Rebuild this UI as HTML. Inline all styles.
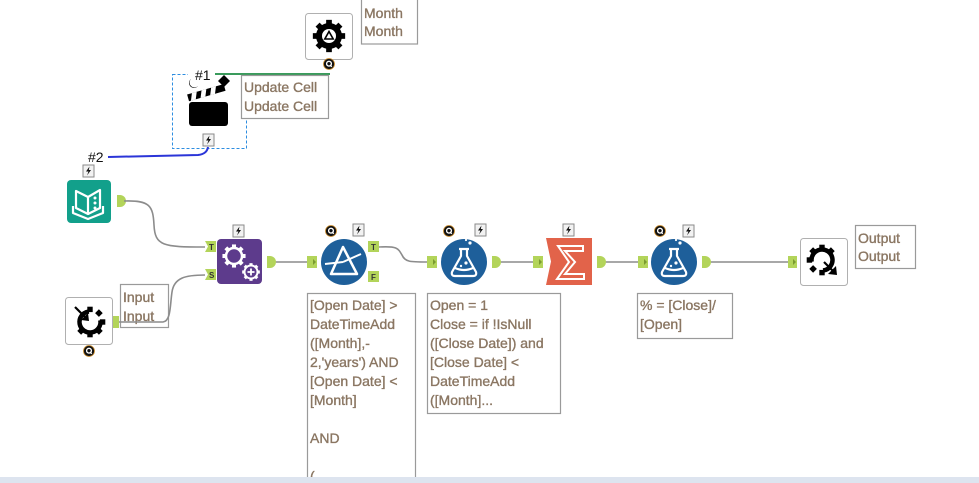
<!DOCTYPE html>
<html><head><meta charset="utf-8">
<style>
html,body{margin:0;padding:0;background:#fff;}
svg{display:block;}
text{font-family:"Liberation Sans",sans-serif;}
.lbl{font-size:14px;fill:#8a7662;stroke:#8a7662;stroke-width:0.35;}
.box{fill:#fff;stroke:#9a9a9a;stroke-width:1.2;}
.ia{fill:#b3d45a;}
.oa{fill:#b3d45a;}
.con{fill:none;stroke:#8c8c8c;stroke-width:1.6;}
</style></head>
<body>
<svg width="979" height="483" viewBox="0 0 979 483" xmlns="http://www.w3.org/2000/svg">
<defs>
  <g id="bolt">
    <rect x="0" y="0" width="11" height="12" fill="#f2f2f2" stroke="#8a8a8a" stroke-width="1"/>
    <path d="M6.5 1.5 L3 6.5 L5.5 6.5 L4 10.5 L8 5 L5.8 5 Z" fill="#111"/>
  </g>
  <g id="q">
    <circle cx="0" cy="0" r="5.5" fill="#111" stroke="#c98a2a" stroke-width="0.8"/>
    <circle cx="0" cy="-0.3" r="2.4" fill="none" stroke="#fff" stroke-width="1.3"/>
    <path d="M1 1 L2.8 2.8" stroke="#fff" stroke-width="1.3"/>
  </g>
  <g id="teeth8">
    <rect x="-3" y="-17" width="6" height="6"/>
    <rect x="-3" y="-17" width="6" height="6" transform="rotate(45)"/>
    <rect x="-3" y="-17" width="6" height="6" transform="rotate(90)"/>
    <rect x="-3" y="-17" width="6" height="6" transform="rotate(135)"/>
    <rect x="-3" y="-17" width="6" height="6" transform="rotate(180)"/>
    <rect x="-3" y="-17" width="6" height="6" transform="rotate(225)"/>
    <rect x="-3" y="-17" width="6" height="6" transform="rotate(270)"/>
    <rect x="-3" y="-17" width="6" height="6" transform="rotate(315)"/>
  </g>
</defs>

<!-- bottom strip -->
<rect x="0" y="477" width="979" height="6" fill="#dde4ef"/>

<!-- ===== Month macro ===== -->
<rect x="305.5" y="13.5" width="47" height="46" rx="3" fill="#fff" stroke="#b0b0b0"/>
<g transform="translate(329,36)" fill="#000">
  <circle r="13"/>
  <g transform="scale(0.95)"><use href="#teeth8"/></g>
  <circle r="7" fill="#fff"/>
  <path d="M0 -4.5 L4.2 3 L-4.2 3 Z" fill="none" stroke="#000" stroke-width="1.6"/>
</g>
<use href="#q" x="329" y="64"/>
<rect x="361.5" y="-1" width="56" height="45" class="box"/>
<text x="364" y="18" class="lbl">Month</text>
<text x="364" y="36" class="lbl">Month</text>

<!-- ===== Container with action ===== -->
<rect x="172.5" y="74.5" width="74" height="74" fill="none" stroke="#2d8de0" stroke-width="1" stroke-dasharray="3,2"/>
<rect x="188" y="66" width="27" height="12" fill="#fff"/>
<path d="M215 74 L330 74" stroke="#3a9b5c" stroke-width="2"/>
<text x="195" y="80" font-size="14" fill="#111">#1</text>
<path d="M191 79 A5 5 0 1 0 198 86 A4 4 0 0 1 191 79 Z" fill="#111"/>
<!-- clapperboard -->
<g>
  <rect x="189" y="102" width="39" height="24" rx="3" fill="#000"/>
  <g transform="rotate(-16 190 101)">
    <rect x="189" y="94" width="38" height="7" fill="#000"/>
    <path d="M194 94 L199 94 L196 101 L191 101 Z M204 94 L209 94 L206 101 L201 101 Z M214 94 L219 94 L216 101 L211 101 Z" fill="#fff"/>
  </g>
</g>
<path d="M224 75 L230 81 L224 87 L218 81 Z" fill="#000"/>
<use href="#bolt" x="203" y="134"/>
<rect x="241.5" y="75.5" width="87" height="43" class="box"/>
<text x="244" y="92" class="lbl">Update Cell</text>
<text x="244" y="111" class="lbl">Update Cell</text>

<!-- blue connection -->
<path d="M108 157 L198 155 Q207 154 208 147" fill="none" stroke="#2b35d8" stroke-width="2"/>
<text x="88" y="162" font-size="14" fill="#111">#2</text>

<!-- ===== Input data (book) ===== -->
<use href="#bolt" x="83" y="165"/>
<rect x="67" y="180" width="44" height="43" rx="4" fill="#12a08b"/>
<g fill="none" stroke="#fff" stroke-width="2.2" stroke-linejoin="round">
  <path d="M76 191 L88 197 L88 214 L76 208 Z"/>
  <path d="M88 197 L100 190 L100 208 L88 214"/>
  <path d="M73 206 L73 213 L88 219 L103 213 L103 206"/>
</g>
<circle cx="95" cy="198" r="1.5" fill="#fff"/>
<circle cx="95" cy="203" r="1.5" fill="#fff"/>
<circle cx="95" cy="208" r="1.5" fill="#fff"/>
<path class="oa" d="M117 195 h3 a6 6 0 0 1 0 12 h-3 z"/>

<path class="con" d="M124 201 C150 200, 153 206, 154 225 C155 246, 163 247, 205 247"/>

<!-- ===== Macro input bottom-left ===== -->
<rect x="65.5" y="297.5" width="47" height="47" rx="3" fill="#fff" stroke="#b0b0b0"/>
<g transform="translate(90,322)" fill="#000">
  <circle r="10.5" fill="none" stroke="#000" stroke-width="4.5" stroke-dasharray="50 16" transform="rotate(-10)"/>
  <g transform="scale(0.9)">
    <rect x="-3" y="-17" width="6" height="6" transform="rotate(0)"/>
    <rect x="-3" y="-17" width="6" height="6" transform="rotate(45)"/>
    <rect x="-3" y="-17" width="6" height="6" transform="rotate(90)"/>
    <rect x="-3" y="-17" width="6" height="6" transform="rotate(135)"/>
    <rect x="-3" y="-17" width="6" height="6" transform="rotate(180)"/>
    <rect x="-3" y="-17" width="6" height="6" transform="rotate(225)"/>
  </g>
  <path d="M-15 -15 L-3 -3" stroke="#000" stroke-width="2.2"/>
  <path d="M-1 -1 L-9 -2 L-2 -9 Z"/>
</g>
<use href="#q" x="89" y="351"/>
<rect class="ia" x="113" y="316" width="6" height="12"/>
<rect x="120.5" y="284.5" width="48" height="43" class="box"/>
<text x="123" y="302" class="lbl">Input</text>
<text x="123" y="321" class="lbl">Input</text>
<path class="con" d="M119 322 L163 322 C171 321, 170 305, 172 292 C174 278, 185 275, 205 275"/>

<!-- ===== Append / purple ===== -->
<path class="ia" d="M205 241 h11 v11 h-11 l3 -5.5 z"/>
<text x="209" y="250" font-size="8" font-weight="bold" fill="#333">T</text>
<path class="ia" d="M205 269 h11 v11 h-11 l3 -5.5 z"/>
<text x="209" y="278" font-size="8" font-weight="bold" fill="#333">S</text>
<use href="#bolt" x="233" y="225"/>
<rect x="217" y="239" width="45" height="45" rx="4" fill="#5d3b8c"/>
<g transform="translate(234,256)" fill="#fff">
  <circle r="8" fill="none" stroke="#fff" stroke-width="2.5"/>
  <g transform="scale(0.68)"><use href="#teeth8" fill="#fff"/></g>
</g>
<g transform="translate(251,272)" fill="#fff">
  <circle r="6.5" fill="#5d3b8c" stroke="#fff" stroke-width="2"/>
  <g transform="scale(0.52)"><use href="#teeth8" fill="#fff"/></g>
  <path d="M-3.5 0 H3.5 M0 -3.5 V3.5" stroke="#fff" stroke-width="1.8"/>
</g>
<path class="oa" d="M267 256 h3 a6 6 0 0 1 0 12 h-3 z"/>
<path class="con" d="M276 262 L307 262"/>

<!-- ===== Filter ===== -->
<path class="ia" d="M307 256 h10 v12 h-10 z"/>
<path d="M313 259 l3 3 l-3 3 z" fill="#7a9a30"/>
<use href="#q" x="331" y="231"/>
<use href="#bolt" x="353" y="224"/>
<circle cx="344" cy="262" r="23" fill="#1e5f9a"/>
<path d="M343 247 L331 274 L357 274 Z" fill="none" stroke="#fff" stroke-width="2.5" stroke-linejoin="round"/>
<path d="M325 264 L343 262 M343 262 L361 254" stroke="#fff" stroke-width="2"/>
<path class="ia" d="M368 241 h11 v11 h-11 z"/>
<text x="371" y="250" font-size="8" font-weight="bold" fill="#333">T</text>
<path class="ia" d="M368 271 h11 v11 h-11 z"/>
<text x="371" y="280" font-size="8" font-weight="bold" fill="#333">F</text>
<path class="con" d="M379 247 C397 246, 398 248, 402 255 C405 262, 410 262, 427 262"/>

<!-- ===== Formula 1 ===== -->
<path class="ia" d="M427 256 h10 v12 h-10 z"/>
<path d="M433 259 l3 3 l-3 3 z" fill="#7a9a30"/>
<use href="#q" x="449" y="231"/>
<use href="#bolt" x="475" y="224"/>
<circle cx="464" cy="262" r="23" fill="#1e5f9a"/>
<g fill="none" stroke="#fff" stroke-width="2.2" stroke-linejoin="round">
  <path d="M459 249 H469 M461 249 V256 L452 272 Q451 276 455 276 H473 Q477 276 476 272 L467 256 V249"/>
  <path d="M455 268 Q464 272 473 268"/>
</g>
<circle cx="466" cy="263" r="1.6" fill="#fff"/>
<circle cx="461" cy="266" r="1.2" fill="#fff"/>
<circle cx="470" cy="243" r="1.6" fill="#fff"/>
<circle cx="466" cy="240" r="1.1" fill="#fff"/>
<path class="oa" d="M492 256 h3 a6 6 0 0 1 0 12 h-3 z"/>
<path class="con" d="M501 262 L533 262"/>

<!-- ===== Summarize ===== -->
<path class="ia" d="M533 256 h10 v12 h-10 z"/>
<path d="M539 259 l3 3 l-3 3 z" fill="#7a9a30"/>
<use href="#bolt" x="563" y="224"/>
<path d="M546 238 H592 V285 H546 L551 261.5 Z" fill="#e2634a"/>
<path d="M558 246 H583 V251 H565 L575 262 L565 274 H584 V279 H557 L569 262 Z" fill="none" stroke="#fff" stroke-width="2"/>
<path class="oa" d="M597 256 h3 a6 6 0 0 1 0 12 h-3 z"/>
<path class="con" d="M606 262 L638 262"/>

<!-- ===== Formula 2 ===== -->
<path class="ia" d="M638 256 h10 v12 h-10 z"/>
<path d="M644 259 l3 3 l-3 3 z" fill="#7a9a30"/>
<use href="#q" x="660" y="231"/>
<use href="#bolt" x="683" y="225"/>
<circle cx="674" cy="262" r="23" fill="#1e5f9a"/>
<g fill="none" stroke="#fff" stroke-width="2.2" stroke-linejoin="round">
  <path d="M669 249 H679 M671 249 V256 L662 272 Q661 276 665 276 H683 Q687 276 686 272 L677 256 V249"/>
  <path d="M665 268 Q674 272 683 268"/>
</g>
<circle cx="676" cy="263" r="1.6" fill="#fff"/>
<circle cx="671" cy="266" r="1.2" fill="#fff"/>
<circle cx="680" cy="243" r="1.6" fill="#fff"/>
<circle cx="676" cy="240" r="1.1" fill="#fff"/>
<path class="oa" d="M702 256 h3 a6 6 0 0 1 0 12 h-3 z"/>
<path class="con" d="M711 262 L788 262"/>

<!-- ===== Macro output ===== -->
<path class="ia" d="M788 256 h9 v12 h-9 z"/>
<path d="M793 259 l3 3 l-3 3 z" fill="#7a9a30"/>
<rect x="800.5" y="238.5" width="47" height="47" rx="3" fill="#fff" stroke="#b0b0b0"/>
<g transform="translate(822,260)" fill="#000">
  <circle r="10.5" fill="none" stroke="#000" stroke-width="4.5" stroke-dasharray="50 16" transform="rotate(170)"/>
  <g transform="scale(0.9)">
    <rect x="-3" y="-17" width="6" height="6" transform="rotate(180)"/>
    <rect x="-3" y="-17" width="6" height="6" transform="rotate(225)"/>
    <rect x="-3" y="-17" width="6" height="6" transform="rotate(270)"/>
    <rect x="-3" y="-17" width="6" height="6" transform="rotate(315)"/>
    <rect x="-3" y="-17" width="6" height="6" transform="rotate(0)"/>
    <rect x="-3" y="-17" width="6" height="6" transform="rotate(45)"/>
  </g>
  <path d="M2 2 L13 13" stroke="#000" stroke-width="2.2"/>
  <path d="M15 15 L14 6 L6 14 Z"/>
</g>
<rect x="855.5" y="225.5" width="60" height="43" class="box"/>
<text x="858" y="243" class="lbl">Output</text>
<text x="858" y="261" class="lbl">Output</text>

<!-- ===== Annotations ===== -->
<rect x="307.5" y="293.5" width="108" height="200" class="box"/>
<text class="lbl" x="310" y="310">[Open Date] &gt;</text>
<text class="lbl" x="310" y="329">DateTimeAdd</text>
<text class="lbl" x="310" y="348">([Month],-</text>
<text class="lbl" x="310" y="367">2,'years') AND</text>
<text class="lbl" x="310" y="386">[Open Date] &lt;</text>
<text class="lbl" x="310" y="405">[Month]</text>
<text class="lbl" x="310" y="443">AND</text>
<text class="lbl" x="310" y="481">(</text>

<rect x="427.5" y="293.5" width="133" height="120" class="box"/>
<text class="lbl" x="430" y="310">Open = 1</text>
<text class="lbl" x="430" y="329">Close = if !IsNull</text>
<text class="lbl" x="430" y="348">([Close Date]) and</text>
<text class="lbl" x="430" y="367">[Close Date] &lt;</text>
<text class="lbl" x="430" y="386">DateTimeAdd</text>
<text class="lbl" x="430" y="405">([Month]...</text>

<rect x="637.5" y="293.5" width="95" height="45" class="box"/>
<text class="lbl" x="640" y="310">% = [Close]/</text>
<text class="lbl" x="640" y="329">[Open]</text>

<!-- strip over annotation overflow -->
<rect x="0" y="477" width="979" height="6" fill="#dde4ef"/>
</svg>
</body></html>
